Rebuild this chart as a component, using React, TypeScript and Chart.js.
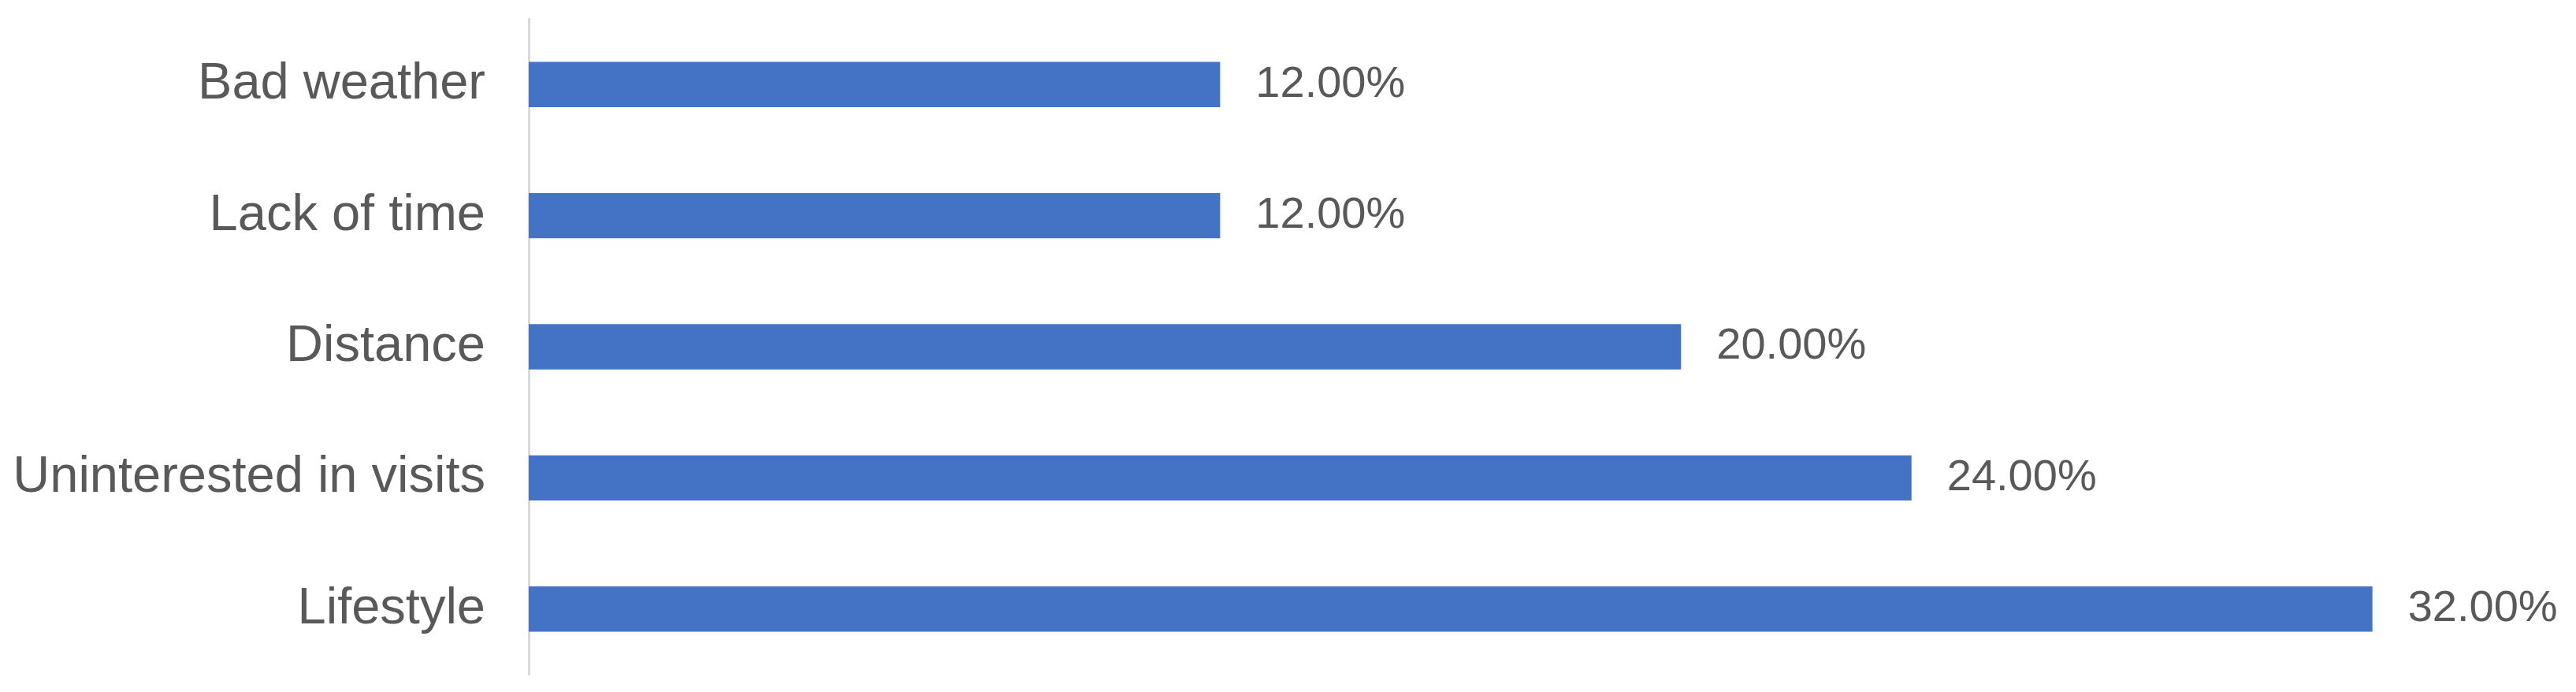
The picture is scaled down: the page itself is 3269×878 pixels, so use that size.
import React, { useEffect, useRef } from "react";
import { Chart, registerables } from "chart.js";

Chart.register(...registerables);

const categories: string[] = ["Bad weather", "Lack of time", "Distance", "Uninterested in visits", "Lifestyle"];
const values: number[] = [12, 12, 20, 24, 32];
const valueLabels: string[] = ["12.00%", "12.00%", "20.00%", "24.00%", "32.00%"];

const W = 3269;
const H = 878;

const valueLabelPlugin = {
  id: "valueLabels",
  afterDatasetsDraw(chart: any) {
    const ctx = chart.ctx;
    const meta = chart.getDatasetMeta(0);
    ctx.save();
    ctx.fillStyle = "#595959";
    ctx.font = "56px 'Liberation Sans', Arial, sans-serif";
    ctx.textAlign = "left";
    ctx.textBaseline = "middle";
    meta.data.forEach((bar: any, i: number) => {
      ctx.fillText(valueLabels[i], bar.x + 45, bar.y);
    });
    ctx.restore();
  },
};

export default function App() {
  const ref = useRef<HTMLCanvasElement | null>(null);
  useEffect(() => {
    if (!ref.current) return;
    const chart = new Chart(ref.current, {
      type: "bar",
      data: {
        labels: categories,
        datasets: [
          {
            data: values,
            backgroundColor: "#4472C4",
            borderWidth: 0,
            barPercentage: 0.345,
            categoryPercentage: 1,
          },
        ],
      },
      options: {
        indexAxis: "y",
        responsive: false,
        animation: false,
        layout: { padding: { top: 24, bottom: 22, left: 0, right: 39 } },
        plugins: { legend: { display: false }, tooltip: { enabled: false } },
        scales: {
          x: { display: false, min: 0, max: 35 },
          y: {
            afterFit(scale: any) {
              scale.width = 671;
              scale.paddingTop = 0;
              scale.paddingBottom = 0;
            },
            grid: { display: false, drawTicks: false },
            border: { display: true, color: "#d9d9d9", width: 3 },
            ticks: {
              padding: 55,
              color: "#595959",
              font: { family: "'Liberation Sans', Arial, sans-serif", size: 65 },
            },
          },
        },
      },
      plugins: [valueLabelPlugin],
    });
    return () => chart.destroy();
  }, []);
  return (
    <div style={{ position: "fixed", left: 0, top: 0, width: W, height: H, background: "#ffffff" }}>
      <canvas ref={ref} width={W} height={H} style={{ width: W, height: H, display: "block" }} />
    </div>
  );
}
